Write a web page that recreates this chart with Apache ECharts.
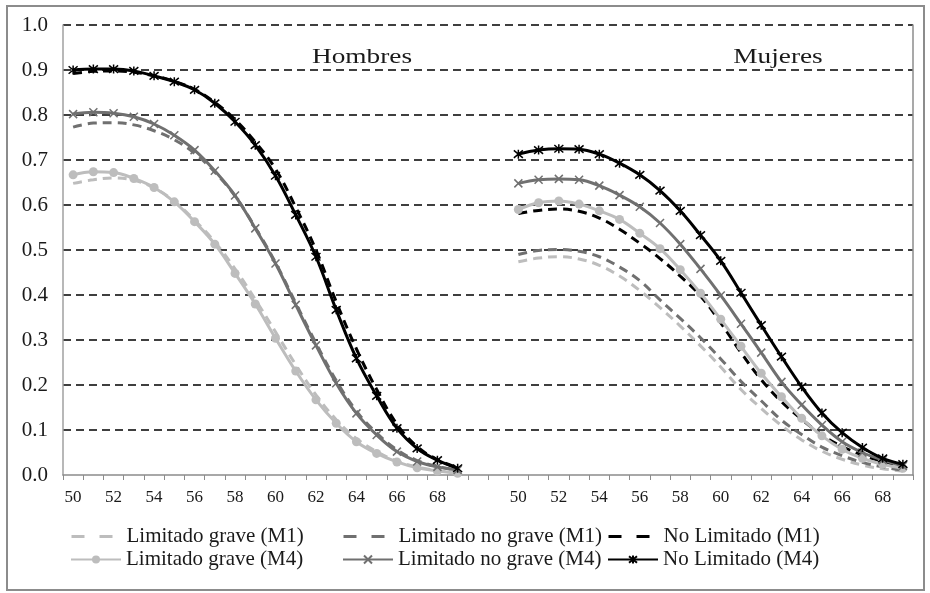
<!DOCTYPE html>
<html>
<head>
<meta charset="utf-8">
<script src="https://cdn.jsdelivr.net/npm/echarts@6/dist/echarts.min.js"></script>
<style>
  html, body { margin: 0; padding: 0; background: #fff; }
  #chart { width: 930px; height: 593px; }
</style>
</head>
<body>
<div id="chart"></div>
<script>
// edades (eje x de cada panel)
const ages = ['50', '51', '52', '53', '54', '55', '56', '57', '58', '59',
  '60', '61', '62', '63', '64', '65', '66', '67', '68', '69'];
const yTicks = [0, 0.1, 0.2, 0.3, 0.4, 0.5, 0.6, 0.7, 0.8, 0.9, 1.0];
const panelTitles = ['Hombres', 'Mujeres'];

const seriesNames = [
  'Limitado grave (M1)', 'Limitado no grave (M1)', 'No Limitado (M1)',
  'Limitado grave (M4)', 'Limitado no grave (M4)', 'No Limitado (M4)'
];

// Hombres
const hombresLgM1 = [0.648, 0.656, 0.660, 0.655, 0.638, 0.608, 0.566, 0.518, 0.458, 0.390,
  0.318, 0.245, 0.178, 0.123, 0.081, 0.052, 0.031, 0.018, 0.010, 0.005];
const hombresLngM1 = [0.773, 0.782, 0.783, 0.778, 0.765, 0.745, 0.715, 0.673, 0.620, 0.550,
  0.472, 0.382, 0.293, 0.210, 0.142, 0.093, 0.056, 0.032, 0.019, 0.011];
const hombresNlM1 = [0.892, 0.897, 0.898, 0.895, 0.887, 0.875, 0.857, 0.828, 0.790, 0.740,
  0.680, 0.595, 0.500, 0.385, 0.280, 0.190, 0.113, 0.063, 0.034, 0.016];
const hombresLgM4 = [0.667, 0.674, 0.672, 0.659, 0.639, 0.607, 0.563, 0.513, 0.448, 0.380,
  0.304, 0.231, 0.167, 0.115, 0.074, 0.048, 0.029, 0.016, 0.009, 0.004];
const hombresLngM4 = [0.802, 0.806, 0.804, 0.796, 0.780, 0.755, 0.722, 0.676, 0.621, 0.548,
  0.470, 0.378, 0.288, 0.204, 0.137, 0.089, 0.052, 0.030, 0.018, 0.011];
const hombresNlM4 = [0.900, 0.902, 0.902, 0.898, 0.887, 0.874, 0.856, 0.826, 0.785, 0.733,
  0.665, 0.578, 0.485, 0.367, 0.259, 0.176, 0.104, 0.059, 0.033, 0.015];

// Mujeres
const mujeresLgM1 = [0.474, 0.482, 0.485, 0.480, 0.466, 0.442, 0.410, 0.372, 0.331, 0.287,
  0.240, 0.190, 0.148, 0.110, 0.078, 0.053, 0.035, 0.022, 0.014, 0.009];
const mujeresLngM1 = [0.490, 0.499, 0.501, 0.497, 0.485, 0.462, 0.432, 0.389, 0.348, 0.305,
  0.258, 0.208, 0.165, 0.122, 0.090, 0.062, 0.043, 0.028, 0.018, 0.011];
const mujeresNlM1 = [0.581, 0.588, 0.591, 0.586, 0.571, 0.546, 0.515, 0.481, 0.442, 0.398,
  0.338, 0.272, 0.212, 0.163, 0.124, 0.089, 0.063, 0.044, 0.030, 0.018];
const mujeresLgM4 = [0.590, 0.605, 0.609, 0.602, 0.587, 0.568, 0.537, 0.503, 0.456, 0.404,
  0.346, 0.286, 0.226, 0.174, 0.126, 0.087, 0.057, 0.037, 0.024, 0.015];
const mujeresLngM4 = [0.648, 0.656, 0.658, 0.656, 0.643, 0.622, 0.596, 0.560, 0.513, 0.458,
  0.399, 0.336, 0.272, 0.207, 0.156, 0.111, 0.074, 0.050, 0.033, 0.020];
const mujeresNlM4 = [0.713, 0.722, 0.725, 0.724, 0.713, 0.693, 0.667, 0.632, 0.587, 0.533,
  0.476, 0.405, 0.333, 0.263, 0.196, 0.138, 0.094, 0.061, 0.037, 0.024];

const hombres = [hombresLgM1, hombresLngM1, hombresNlM1, hombresLgM4, hombresLngM4, hombresNlM4];
const mujeres = [mujeresLgM1, mujeresLngM1, mujeresNlM1, mujeresLgM4, mujeresLngM4, mujeresNlM4];

// dos categorias vacias separan los paneles
const categories = ages.concat(['', ''], ages);

const FONT = "'Liberation Serif', 'Times New Roman', serif";
const LIGHT = '#bdbdbd';
const MID = '#707070';
const DARK = '#000000';
const colors = [LIGHT, MID, DARK, LIGHT, MID, DARK];

const xPath = 'path://M0,0L10,10M10,0L0,10';
const starPath = 'path://M0,0L10,10M10,0L0,10M5,-1L5,11';
const symbols = ['none', 'none', 'none', 'circle', xPath, starPath];
const symbolSizes = [0, 0, 0, 9, 8, 9];

const chart = echarts.init(document.getElementById('chart'));

const series = seriesNames.map((name, i) => {
  const dashed = i < 3;
  const sym = symbols[i];
  const isPath = sym.indexOf('path://') === 0;
  return {
    name: name,
    type: 'line',
    data: hombres[i].concat([null, null], mujeres[i]),
    smooth: 0.4,
    connectNulls: false,
    symbol: sym,
    symbolSize: symbolSizes[i],
    showAllSymbol: true,
    z: 2 + i,
    lineStyle: {
      color: colors[i],
      width: 3,
      type: dashed ? [9, 6] : 'solid'
    },
    itemStyle: isPath
      ? { color: colors[i], borderColor: colors[i], borderWidth: 1.5 }
      : { color: colors[i] },
    emphasis: { disabled: true }
  };
});

// leyenda: 3 columnas x 2 filas
const legendCols = [70, 342, 607];
const legendRows = [526, 549];
const legends = seriesNames.map((name, i) => {
  const lg = {
    data: [name],
    left: legendCols[i % 3],
    top: legendRows[Math.floor(i / 3)],
    padding: 0,
    itemWidth: 50,
    itemHeight: 10,
    selectedMode: false,
    textStyle: { fontFamily: FONT, fontSize: 21, color: '#1a1a1a' }
  };
  if (i < 3) {
    // solo la linea discontinua, sin simbolo
    lg.lineStyle = { type: [13, 15], width: 3 };
    lg.itemStyle = { color: 'rgba(0,0,0,0)', borderWidth: 0, opacity: 0 };
  }
  return lg;
});

const option = {
  animation: false,
  backgroundColor: '#fff',
  grid: { left: 63, top: 25, right: 17, bottom: 118, containLabel: false },
  legend: legends,
  xAxis: {
    type: 'category',
    data: categories,
    boundaryGap: true,
    axisLine: { show: true, lineStyle: { color: '#8c8c8c', width: 1.5 } },
    axisTick: { show: true, interval: 0, length: 5, lineStyle: { color: '#8c8c8c', width: 1 } },
    axisLabel: {
      interval: 1,
      margin: 14,
      fontFamily: FONT,
      fontSize: 17,
      color: '#1a1a1a'
    },
    splitLine: { show: false }
  },
  yAxis: [
    {
      type: 'value',
      min: yTicks[0],
      max: yTicks[yTicks.length - 1],
      interval: 0.1,
      axisLine: { show: true, lineStyle: { color: '#a0a0a0', width: 1.5 } },
      axisTick: { show: false },
      axisLabel: {
        margin: 15,
        fontFamily: FONT,
        fontSize: 21,
        color: '#1a1a1a',
        formatter: v => v.toFixed(1)
      },
      splitLine: {
        show: true,
        showMinLine: false,
        lineStyle: { color: '#000', width: 1.5, type: [8, 5] }
      }
    },
    {
      type: 'value',
      position: 'right',
      min: 0,
      max: 1,
      axisLine: { show: true, lineStyle: { color: '#8c8c8c', width: 1.5 } },
      axisTick: { show: false },
      axisLabel: { show: false },
      splitLine: { show: false }
    }
  ],
  graphic: [
    {
      type: 'rect',
      shape: { x: 7, y: 6, width: 917, height: 584 },
      style: { fill: 'none', stroke: '#8c8c8c', lineWidth: 2 },
      silent: true
    },
    {
      type: 'text', x: 362, y: 57, scaleX: 1.3, z: 10,
      style: { text: panelTitles[0], fontFamily: FONT, fontSize: 21, fill: '#1a1a1a', align: 'center', verticalAlign: 'middle' }
    },
    {
      type: 'text', x: 778, y: 57, scaleX: 1.3, z: 10,
      style: { text: panelTitles[1], fontFamily: FONT, fontSize: 21, fill: '#1a1a1a', align: 'center', verticalAlign: 'middle' }
    }
  ],
  series: series
};

chart.setOption(option);
</script>
</body>
</html>
